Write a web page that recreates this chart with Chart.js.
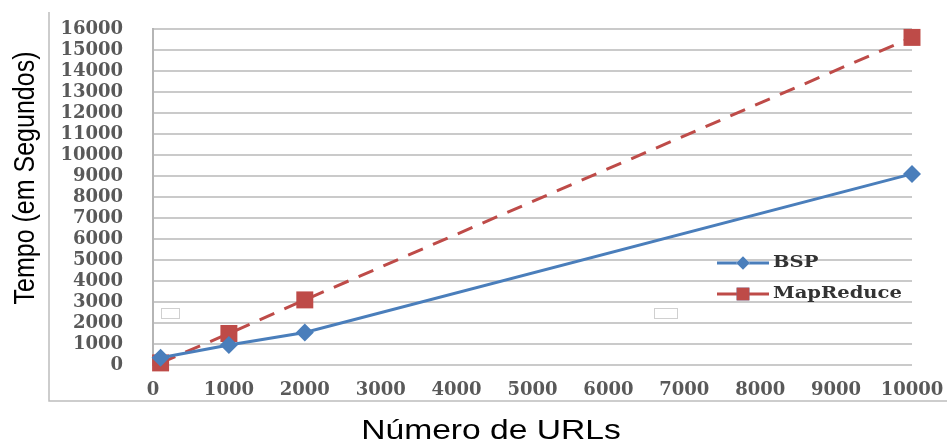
<!DOCTYPE html>
<html>
<head>
<meta charset="utf-8">
<script src="https://cdn.jsdelivr.net/npm/chart.js@4/dist/chart.umd.min.js"></script>
<style>
  html, body { margin: 0; padding: 0; background: #fff; }
  #wrap { position: relative; width: 947px; height: 446px; }
</style>
</head>
<body>
<div id="wrap"><canvas id="urlChart" width="947" height="446"></canvas></div>
<script>
// valores
const urls = [100, 1000, 2000, 10000];
const bsp = [350, 950, 1550, 9100];
const mapReduce = [100, 1500, 3100, 15600];
const xTicks = [0, 1000, 2000, 3000, 4000, 5000, 6000, 7000, 8000, 9000, 10000];
const yTicks = [0, 1000, 2000, 3000, 4000, 5000, 6000, 7000, 8000, 9000, 10000, 11000, 12000, 13000, 14000, 15000, 16000];
const seriesNames = ['BSP', 'MapReduce'];

const toPoints = ys => urls.map((x, i) => ({ x: x, y: ys[i] }));

const tickFont = { family: "'DejaVu Serif', serif", size: 18, weight: 'bold' };
const blue = '#4a7ebb';
const red = '#be4b48';
const stretch = 1.2; // o original está esticado na horizontal

// moldura, legenda e títulos dos eixos
const decorations = {
    id: 'decorations',
    afterDraw(chart) {
        const ctx = chart.ctx;
        ctx.save();
        ctx.strokeStyle = '#bdbdbd';
        ctx.lineWidth = 1.5;
        ctx.beginPath();
        ctx.moveTo(49, 12);
        ctx.lineTo(49, 401);
        ctx.lineTo(947, 401);
        ctx.stroke();

        // pequenos retângulos do original
        ctx.strokeStyle = '#d0d0d0';
        ctx.lineWidth = 1;
        ctx.fillStyle = '#fff';
        ctx.fillRect(161.5, 308.5, 18, 10);
        ctx.strokeRect(161.5, 308.5, 18, 10);
        ctx.fillRect(654.5, 308.5, 23, 10);
        ctx.strokeRect(654.5, 308.5, 23, 10);

        // legenda
        const items = chart.data.datasets;
        const rows = [263, 294];
        items.forEach((ds, i) => {
            const y = rows[i];
            ctx.strokeStyle = ds.borderColor;
            ctx.lineWidth = 3;
            ctx.setLineDash([]);
            ctx.beginPath();
            ctx.moveTo(717, y);
            ctx.lineTo(769, y);
            ctx.stroke();
            Chart.helpers.drawPoint(ctx, {
                pointStyle: ds.pointStyle,
                radius: ds.pointRadius * 0.75,
                borderWidth: 0
            }, 743, y);
            ctx.fillStyle = ds.pointBackgroundColor;
            ctx.fill();
            ctx.save();
            ctx.scale(1.15, 1);
            ctx.fillStyle = '#333';
            ctx.font = "bold 17px 'DejaVu Serif', serif";
            ctx.textBaseline = 'middle';
            ctx.textAlign = 'left';
            ctx.fillText(seriesNames[i], 773 / 1.15, y);
            ctx.restore();
        });

        ctx.fillStyle = '#000';
        ctx.textAlign = 'center';
        ctx.textBaseline = 'middle';

        ctx.save();
        ctx.scale(stretch, 1);
        ctx.font = "28px 'Liberation Sans', Arial, sans-serif";
        ctx.fillText('Número de URLs', 491 / stretch, 431);
        ctx.restore();

        ctx.save();
        ctx.translate(26, 178);
        ctx.rotate(-Math.PI / 2);
        ctx.scale(1, stretch);
        ctx.font = "25px 'Liberation Sans', Arial, sans-serif";
        ctx.fillText('Tempo (em Segundos)', 0, 0);
        ctx.restore();

        ctx.restore();
    }
};

new Chart(document.getElementById('urlChart'), {
    type: 'line',
    data: {
        datasets: [{
            label: seriesNames[0],
            data: toPoints(bsp),
            borderColor: blue,
            backgroundColor: blue,
            pointBackgroundColor: blue,
            pointBorderWidth: 0,
            borderWidth: 3,
            pointStyle: 'rectRot',
            pointRadius: 9,
            tension: 0,
            clip: false
        }, {
            label: seriesNames[1],
            data: toPoints(mapReduce),
            borderColor: red,
            backgroundColor: red,
            pointBackgroundColor: red,
            pointBorderWidth: 0,
            borderWidth: 3,
            borderDash: [16, 11],
            pointStyle: 'rect',
            pointRadius: 12,
            tension: 0,
            clip: false
        }]
    },
    options: {
        responsive: false,
        animation: false,
        layout: { autoPadding: false, padding: { top: 29, right: 35, bottom: 0, left: 0 } },
        plugins: {
            legend: { display: false },
            tooltip: { enabled: false }
        },
        scales: {
            x: {
                type: 'linear',
                min: 0,
                max: 10000,
                afterBuildTicks: scale => { scale.ticks = xTicks.map(v => ({ value: v })); },
                afterFit: scale => { scale.height = 81; },
                // marcas invisíveis para afastar os rótulos sem mexer no layout
                grid: { color: 'transparent', drawTicks: true, tickLength: 15, tickColor: 'transparent' },
                border: { display: false },
                ticks: {
                    font: tickFont, color: '#595959', padding: 0, maxRotation: 0, autoSkip: false,
                    callback: v => String(v)
                }
            },
            y: {
                min: 0,
                max: 16000,
                afterBuildTicks: scale => { scale.ticks = yTicks.map(v => ({ value: v })); },
                afterFit: scale => { scale.width = 153; },
                grid: { color: '#cacaca', lineWidth: 2, drawTicks: true, tickLength: 30, tickColor: 'transparent' },
                border: { display: true, color: '#b5b5b5', width: 2 },
                ticks: {
                    font: tickFont, color: '#595959', padding: 0, autoSkip: false,
                    callback: v => String(v)
                }
            }
        }
    },
    plugins: [decorations]
});
</script>
</body>
</html>
